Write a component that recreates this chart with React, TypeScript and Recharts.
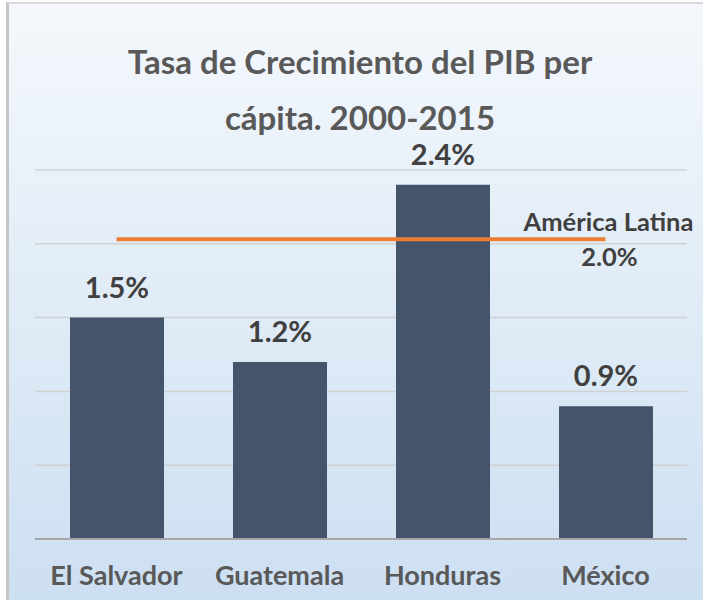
import { ComposedChart, Bar, Line, XAxis, YAxis, CartesianGrid, LabelList } from 'recharts';

const countries = ['El Salvador', 'Guatemala', 'Honduras', 'México'];
const growth = [1.5, 1.2, 2.4, 0.9];
const latamAvg = [2.03, 2.03, 2.03, 2.03];
const yTicks = [0, 0.5, 1, 1.5, 2, 2.5];

const data = countries.map((name, i) => ({ name, growth: growth[i], latam: latamAvg[i] }));

const FONT = 'Lato, "Open Sans", sans-serif';

const pct = (v: number) => `${v.toFixed(1)}%`;

function CountryTick(props: any) {
  const { x, y, payload } = props;
  return (
    <text x={x} y={y} dy={38} textAnchor="middle" fill="#595959" fontFamily={FONT} fontWeight={700} fontSize={27}>
      {payload.value}
    </text>
  );
}

function LatamLabel(props: any) {
  const { x, y, index, value } = props;
  if (index !== latamAvg.length - 1) return null;
  return (
    <g fontFamily={FONT} fontWeight={700} fontSize={25.5} fill="#404040" textAnchor="middle">
      <text x={x + 3} y={y - 8}>América Latina</text>
      <text x={x + 4} y={y + 27}>{pct(value)}</text>
    </g>
  );
}

export default function App() {
  return (
    <div style={{ position: 'absolute', left: 0, top: 0, width: 703, height: 600, background: '#fff', overflow: 'hidden' }}>
      <div
        style={{
          position: 'absolute',
          left: 6,
          top: 2,
          width: 700,
          height: 600,
          borderLeft: '3px solid #c6c6c6',
          borderTop: '2px solid #dadada',
          background: 'linear-gradient(#F4F8FC, #CCDFF1)',
        }}
      />
      <svg width={703} height={150} style={{ position: 'absolute', left: 0, top: 0 }}>
        <g fontFamily={FONT} fontWeight={700} fontSize={33} fill="#595959" textAnchor="middle">
          <text x={360} y={74}>Tasa de Crecimiento del PIB per</text>
          <text x={360} y={130}>cápita. 2000-2015</text>
        </g>
      </svg>
      <div style={{ position: 'absolute', left: 0, top: 0 }}>
        <ComposedChart width={703} height={600} data={data} margin={{ top: 170, right: 16, left: 35, bottom: 21 }}>
          <CartesianGrid vertical={false} stroke="#D0D0D0" strokeWidth={1.5} />
          <YAxis hide domain={[0, 2.5]} ticks={yTicks} />
          <XAxis
            dataKey="name"
            height={40}
            axisLine={{ stroke: '#A6A6A6', strokeWidth: 2 }}
            tickLine={false}
            tick={<CountryTick />}
            interval={0}
          />
          <Bar dataKey="growth" fill="#44546A" barSize={94} isAnimationActive={false}>
            <LabelList
              dataKey="growth"
              position="top"
              offset={20}
              formatter={(v: any) => pct(Number(v))}
              fill="#404040"
              fontFamily={FONT}
              fontWeight={700}
              fontSize={29}
            />
          </Bar>
          <Line
            dataKey="latam"
            stroke="#ED7D31"
            strokeWidth={4}
            dot={false}
            activeDot={false}
            isAnimationActive={false}
            label={<LatamLabel />}
          />
        </ComposedChart>
      </div>
    </div>
  );
}
